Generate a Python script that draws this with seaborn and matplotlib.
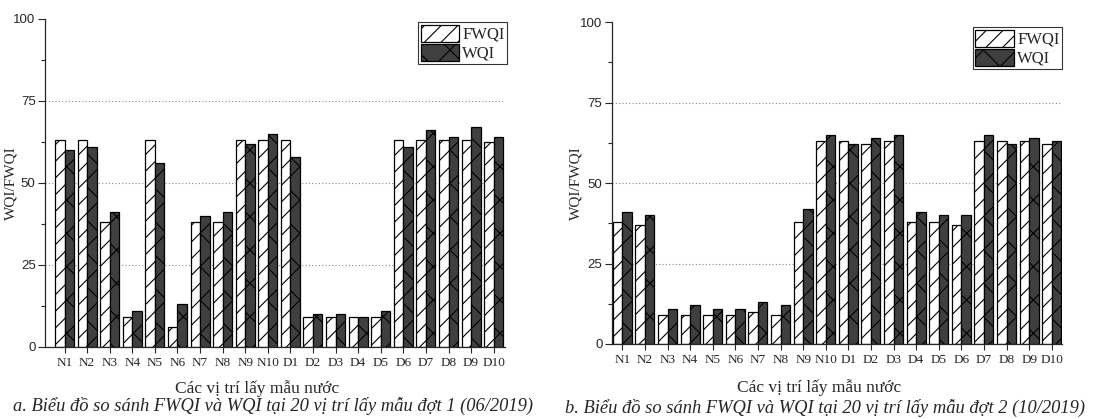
import numpy as np
import pandas as pd
import matplotlib
matplotlib.use("Agg")
import matplotlib.pyplot as plt
import seaborn as sns
from matplotlib.ticker import MultipleLocator

# sampling sites
sites = ["N1", "N2", "N3", "N4", "N5", "N6", "N7", "N8", "N9", "N10",
         "D1", "D2", "D3", "D4", "D5", "D6", "D7", "D8", "D9", "D10"]

# round 1 (06/2019)
fwqi_1 = [63, 63, 38, 9, 63, 6, 38, 38, 63, 63, 63, 9, 9, 9, 9, 63, 63, 63, 63, 62.5]
wqi_1 = [60, 61, 41, 11, 56, 13, 40, 41, 62, 65, 58, 10, 10, 9, 11, 61, 66, 64, 67, 64]

# round 2 (10/2019)
fwqi_2 = [38, 37, 9, 9, 9, 9, 10, 9, 38, 63, 63, 62, 63, 38, 38, 37, 63, 63, 63, 62]
wqi_2 = [41, 40, 11, 12, 11, 11, 13, 12, 42, 65, 62, 64, 65, 41, 40, 40, 65, 62, 64, 63]

captions = ["a. Biểu đồ so sánh FWQI và WQI tại 20 vị trí lấy mẫu đợt 1 (06/2019)",
            "b. Biểu đồ so sánh FWQI và WQI tại 20 vị trí lấy mẫu đợt 2 (10/2019)"]

sns.set_style("ticks")
plt.rcParams['font.family'] = ['Liberation Serif', 'DejaVu Serif']
plt.rcParams['hatch.linewidth'] = 0.8

def make_df(fw, wq):
    return pd.DataFrame({
        "site": sites * 2,
        "value": list(fw) + list(wq),
        "index": ["FWQI"] * len(sites) + ["WQI"] * len(sites),
    })

fig = plt.figure(figsize=(11.05, 4.19), dpi=100)
ax1 = fig.add_axes([0.041, 0.172, 0.416, 0.783])
ax2 = fig.add_axes([0.554, 0.179, 0.407, 0.768])

panels = [(ax1, fwqi_1, wqi_1, (-0.85, 19.5), -0.061, (1.005, 0.99), -0.1),
          (ax2, fwqi_2, wqi_2, (-0.45, 19.45), -0.067, (1.0, 0.985), -0.11)]

hatches = {"FWQI": "//", "WQI": "x"}

for ax, fw, wq, xl, ylx, lpos, xly in panels:
    df = make_df(fw, wq)
    for yv in [25, 50, 75]:
        ax.axhline(yv, color="#888888", ls=(0, (1, 2)), lw=0.8, zorder=0)
    sns.barplot(data=df, x="site", y="value", hue="index", ax=ax,
                palette=["white", "#3f3f3f"], edgecolor="black",
                linewidth=0.9, width=0.84, gap=0, saturation=1, zorder=2)
    for cont, name in zip(ax.containers, ["FWQI", "WQI"]):
        for b in cont:
            b.set_hatch(hatches[name])
    ax.set_xlim(*xl)
    ax.set_ylim(0, 100)
    ax.yaxis.set_major_locator(MultipleLocator(25))
    ax.yaxis.set_minor_locator(MultipleLocator(12.5))
    ax.tick_params(axis="y", which="major", length=5, width=0.8, pad=2)
    ax.tick_params(axis="y", which="minor", length=3, width=0.8)
    ax.tick_params(axis="x", length=4, width=0.8, pad=3)
    for lab in ax.get_yticklabels():
        lab.set_fontfamily("Liberation Sans")
        lab.set_fontsize(9.5)
    for lab in ax.get_xticklabels():
        lab.set_fontsize(9.5)
    sns.despine(ax=ax)
    for sp in ["left", "bottom"]:
        ax.spines[sp].set_linewidth(0.9)
    ax.set_xlabel("Các vị trí lấy mẫu nước", fontsize=12.5)
    ax.xaxis.set_label_coords(0.46, xly)
    ax.set_ylabel("WQI/FWQI", fontsize=11)
    ax.yaxis.set_label_coords(ylx, 0.5)
    leg = ax.legend(loc="upper right", bbox_to_anchor=lpos, frameon=True,
                    fancybox=False, edgecolor="black", fontsize=12,
                    handlelength=2.3, handleheight=1.2, handletextpad=0.2,
                    borderpad=0.15, labelspacing=0.05, borderaxespad=0.0)
    leg.get_frame().set_linewidth(0.8)
    for h, name in zip(leg.legend_handles, ["FWQI", "WQI"]):
        h.set_hatch(hatches[name])
        h.set_edgecolor("black")

fig.text(0.247, 0.02, captions[0], ha="center", fontsize=13.3, style="italic")
fig.text(0.747, 0.015, captions[1], ha="center", fontsize=13.3, style="italic")

fig.savefig("out.png", dpi=100)
